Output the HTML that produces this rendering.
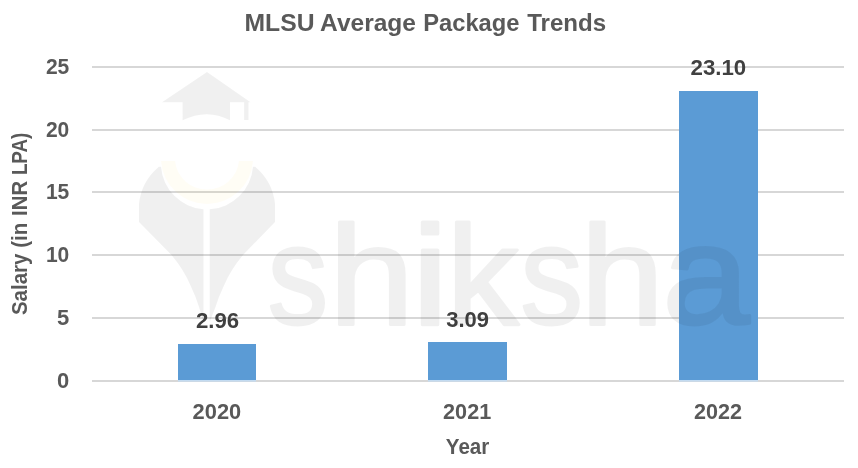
<!DOCTYPE html>
<html>
<head>
<meta charset="utf-8">
<title>MLSU Average Package Trends</title>
<style>
html,body{margin:0;padding:0;background:#fff;}
body{width:858px;height:468px;overflow:hidden;}
svg{display:block;}
text{font-family:"Liberation Sans",sans-serif;font-weight:bold;fill:#595959;}
.lbl text{fill:#404040;}
</style>
</head>
<body>
<svg width="858" height="468" viewBox="0 0 858 468">
<rect width="858" height="468" fill="#fff"/>
<!-- gridlines -->
<g fill="#d7d7d7">
<rect x="92" y="66" width="752" height="2"/>
<rect x="92" y="129" width="752" height="2"/>
<rect x="92" y="191" width="752" height="2"/>
<rect x="92" y="254" width="752" height="2"/>
<rect x="92" y="317" width="752" height="2"/>
<rect x="92" y="380" width="752" height="2"/>
</g>
<!-- bars -->
<g fill="#c3dbf1">
<rect x="178" y="379" width="78" height="2.6"/>
<rect x="428" y="379" width="79" height="2.6"/>
<rect x="679" y="379" width="79" height="2.6"/>
</g>
<g fill="#5b9bd5">
<rect x="178" y="344" width="78" height="36"/>
<rect x="428" y="342" width="79" height="38"/>
<rect x="679" y="91" width="79" height="289"/>
</g>
<!-- title -->
<text y="30.5" font-size="24.6"><tspan x="244.5" textLength="70" lengthAdjust="spacingAndGlyphs">MLSU</tspan> <tspan x="320.1" textLength="95.9" lengthAdjust="spacingAndGlyphs">Average</tspan> <tspan x="423.2" textLength="96.3" lengthAdjust="spacingAndGlyphs">Package</tspan> <tspan x="527.2" textLength="79" lengthAdjust="spacingAndGlyphs">Trends</tspan></text>
<!-- y labels -->
<g font-size="22" text-anchor="end">
<text x="69.3" y="74" textLength="23.4" lengthAdjust="spacingAndGlyphs">25</text>
<text x="69.3" y="137" textLength="23.4" lengthAdjust="spacingAndGlyphs">20</text>
<text x="69.3" y="199" textLength="23.4" lengthAdjust="spacingAndGlyphs">15</text>
<text x="69.3" y="262" textLength="23.4" lengthAdjust="spacingAndGlyphs">10</text>
<text x="69.3" y="325">5</text>
<text x="69.3" y="388">0</text>
</g>
<!-- x labels -->
<g font-size="22">
<text x="192.6" y="419" textLength="48.6" lengthAdjust="spacingAndGlyphs">2020</text>
<text x="443.1" y="419" textLength="48.1" lengthAdjust="spacingAndGlyphs">2021</text>
<text x="694" y="419" textLength="48" lengthAdjust="spacingAndGlyphs">2022</text>
<text x="445.8" y="453.5" textLength="43.5" lengthAdjust="spacingAndGlyphs">Year</text>
</g>
<!-- data labels -->
<g font-size="22" class="lbl">
<text x="195.9" y="328" textLength="43.2" lengthAdjust="spacingAndGlyphs">2.96</text>
<text x="446.2" y="326.8" textLength="42.8" lengthAdjust="spacingAndGlyphs">3.09</text>
<text x="690.5" y="75" textLength="55.7" lengthAdjust="spacingAndGlyphs">23.10</text>
</g>
<!-- watermark -->
<g opacity="0.055" id="wm">
<g fill="#000">
<path d="M207 72 L250.5 102.3 L248.5 102.3 L248.5 120 L244.1 120 L244.1 102.3 L230 102.3 L230 120.3 Q207 108 182.6 120.3 L182.6 102.3 L162 102.3 Z"/>
<path d="M158.8 166.7 L161.03 166.7 A46.1 46.1 0 0 0 203.5 209.27 L203.5 322 L199 307 Q196 297 190.5 285.5 Q184 270 171.5 255 L139 222 L139 204 Q141 182 158.8 166.7 Z"/>
<path d="M255.2 166.7 L252.97 166.7 A46.1 46.1 0 0 1 209.7 209.27 L209.7 322 L215.5 307 Q218.5 297 224 285.5 Q230.5 270 243 255 L275 222 L275 204 Q273 182 255.2 166.7 Z"/>
</g>
<text y="323.5" font-size="140.5" style="font-weight:normal;fill:#000;stroke:#000;stroke-width:3;stroke-linejoin:round"><tspan x="267.8" textLength="60.4" lengthAdjust="spacingAndGlyphs">s</tspan><tspan x="329.1" textLength="84.9" lengthAdjust="spacingAndGlyphs">h</tspan><tspan x="411.2" textLength="37.7" lengthAdjust="spacingAndGlyphs">i</tspan><tspan x="446.8" textLength="72.0" lengthAdjust="spacingAndGlyphs">k</tspan><tspan x="520.5" textLength="62.4" lengthAdjust="spacingAndGlyphs">s</tspan><tspan x="580.6" textLength="83.4" lengthAdjust="spacingAndGlyphs">h</tspan><tspan x="662.3" textLength="87.3" lengthAdjust="spacingAndGlyphs">a</tspan></text>
</g>
<path d="M161 161 L175 161 A32.2 32.2 0 0 0 239 161 L253 161 A46.1 46.1 0 0 1 161 161 Z" fill="#ffc000" opacity="0.04"/>
<!-- y title -->
<text transform="translate(27.2,314.2) rotate(-90)" font-size="22"><tspan x="-0.9" textLength="61.5" lengthAdjust="spacingAndGlyphs">Salary</tspan> <tspan x="66.4" textLength="24.95" lengthAdjust="spacingAndGlyphs">(in</tspan> <tspan x="98.3" textLength="35.05" lengthAdjust="spacingAndGlyphs">INR</tspan> <tspan x="139.1" textLength="42.45" lengthAdjust="spacingAndGlyphs">LPA)</tspan></text>
</svg>
</body>
</html>
